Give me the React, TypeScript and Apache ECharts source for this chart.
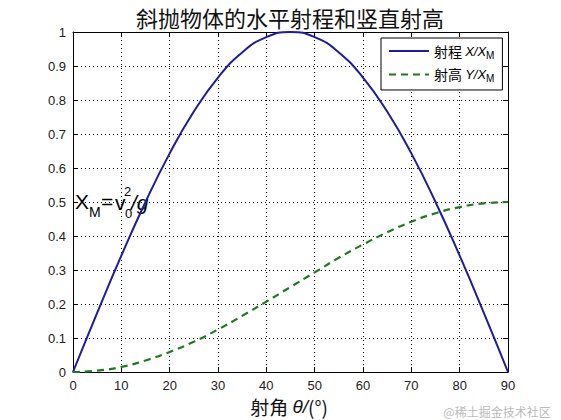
import { useEffect, useRef } from "react";
import * as echarts from "echarts";

// launch angle in degrees
const angles = [0, 5, 10, 15, 20, 25, 30, 35, 40, 45, 50, 55, 60, 65, 70, 75, 80, 85, 90];
// horizontal range X/X_M
const rangeRatio = [
  0, 0.174, 0.342, 0.5, 0.643, 0.766, 0.866, 0.94, 0.985, 1.0, 0.985, 0.94, 0.866, 0.766, 0.643, 0.5,
  0.342, 0.174, 0,
];
// max height Y/X_M
const heightRatio = [
  0, 0.004, 0.015, 0.034, 0.059, 0.089, 0.125, 0.165, 0.207, 0.25, 0.293, 0.336, 0.375, 0.411, 0.442,
  0.467, 0.485, 0.496, 0.5,
];
const seriesNames = ["射程", "射高"];

const BLUE = "#1c1c9c";
const GREEN = "#1f7a1f";
const SANS = "'Liberation Sans', Arial, sans-serif";
const CJK = "'Noto Sans CJK SC', sans-serif";

const frameAxis = (position: string, withLabels: boolean, extra: object) => ({
  type: "value",
  position,
  axisLine: { show: true, onZero: false, lineStyle: { color: "#000", width: 1 } },
  axisTick: { show: true, inside: true, length: 5, lineStyle: { color: "#000" } },
  axisLabel: {
    show: withLabels,
    color: "#222",
    fontSize: 13,
    fontFamily: SANS,
    margin: 7,
  },
  splitLine: {
    show: withLabels,
    lineStyle: { color: "#000", width: 1, type: [1, 3] },
  },
  ...extra,
});

export default function App() {
  const ref = useRef<HTMLDivElement | null>(null);

  useEffect(() => {
    document.body.style.margin = "0";
    if (!ref.current) return;
    const chart = echarts.init(ref.current, undefined, { renderer: "svg" });

    const xr = { min: 0, max: 90, interval: 10 };
    const yr = { min: 0, max: 1, interval: 0.1 };

    chart.setOption({
      animation: false,
      backgroundColor: "#fff",
      grid: { left: 73, top: 32, width: 435, height: 340, show: false },
      xAxis: [frameAxis("bottom", true, xr), frameAxis("top", false, xr)],
      yAxis: [frameAxis("left", true, yr), frameAxis("right", false, yr)],
      legend: {
        orient: "vertical",
        left: 381,
        top: 38,
        padding: [6, 8, 6, 7],
        itemGap: 7,
        itemWidth: 40,
        itemHeight: 14,
        backgroundColor: "#fff",
        borderColor: "#000",
        borderWidth: 1,
        borderRadius: 0,
        itemStyle: { opacity: 0 },
        data: seriesNames,
        formatter: (name: string) =>
          name === seriesNames[0]
            ? `{c|${name} }{i|X/X}{s|M}`
            : `{c|${name} }{i|Y/X}{s|M}`,
        textStyle: {
          color: "#000",
          rich: {
            c: { fontFamily: CJK, fontSize: 14, color: "#000" },
            i: { fontFamily: SANS, fontSize: 13, fontStyle: "italic", color: "#000" },
            s: { fontFamily: SANS, fontSize: 10, color: "#000", padding: [9, 0, 0, 0] },
          },
        },
      },
      series: [
        {
          name: seriesNames[0],
          type: "line",
          data: angles.map((a, i) => [a, rangeRatio[i]]),
          smooth: true,
          symbol: "none",
          lineStyle: { color: BLUE, width: 2 },
          itemStyle: { color: BLUE },
        },
        {
          name: seriesNames[1],
          type: "line",
          data: angles.map((a, i) => [a, heightRatio[i]]),
          smooth: true,
          symbol: "none",
          lineStyle: { color: GREEN, width: 2.2, type: [7, 5] },
          itemStyle: { color: GREEN },
        },
      ],
      graphic: [
        {
          type: "text",
          x: 290,
          y: 17,
          style: {
            text: "斜抛物体的水平射程和竖直射高",
            fontFamily: CJK,
            fontSize: 22,
            fill: "#111",
            align: "center",
            verticalAlign: "middle",
          },
        },
        {
          type: "text",
          x: 289,
          y: 406,
          style: {
            text: "{c|射角 }{i|θ/}{c|(°)}",
            align: "center",
            verticalAlign: "middle",
            rich: {
              c: { fontFamily: CJK, fontSize: 19, fill: "#111" },
              i: { fontFamily: SANS, fontSize: 19, fontStyle: "italic", fill: "#111" },
            },
          },
        },
        {
          type: "text",
          x: 497,
          y: 411,
          style: {
            text: "@稀土掘金技术社区",
            fontFamily: CJK,
            fontSize: 12,
            fill: "#bbb",
            align: "center",
            verticalAlign: "middle",
          },
        },
        {
          type: "group",
          x: 75,
          y: 201,
          z: 10,
          children: [
            { type: "text", x: 0, y: 0, style: { text: "X", fontFamily: SANS, fontSize: 21, fill: "#000", verticalAlign: "middle" } },
            { type: "text", x: 14, y: 11, style: { text: "M", fontFamily: SANS, fontSize: 14, fill: "#000", verticalAlign: "middle" } },
            { type: "text", x: 26, y: 0, style: { text: "=", fontFamily: SANS, fontSize: 21, fill: "#000", verticalAlign: "middle" } },
            { type: "text", x: 40, y: 1, style: { text: "v", fontFamily: SANS, fontSize: 21, fill: "#000", verticalAlign: "middle" } },
            { type: "text", x: 49, y: -10, style: { text: "2", fontFamily: SANS, fontSize: 13, fill: "#000", verticalAlign: "middle" } },
            { type: "text", x: 50, y: 12, style: { text: "0", fontFamily: SANS, fontSize: 13, fill: "#000", verticalAlign: "middle" } },
            { type: "text", x: 56, y: 1, style: { text: "/g", fontFamily: SANS, fontSize: 21, fontStyle: "italic", fill: "#000", verticalAlign: "middle" } },
          ],
        },
      ],
    });

    return () => {
      chart.dispose();
    };
  }, []);

  return <div ref={ref} style={{ width: 561, height: 420 }} />;
}
